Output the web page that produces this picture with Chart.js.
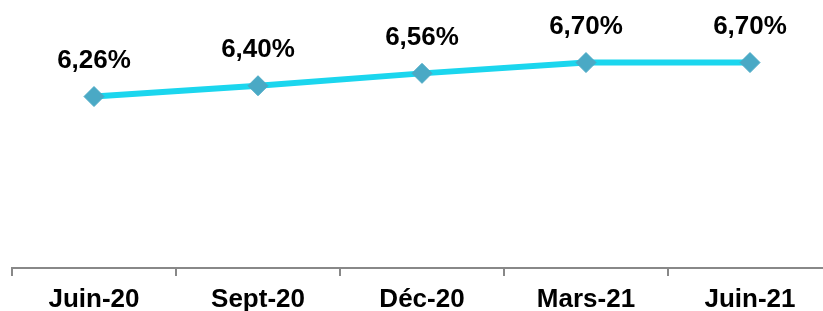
<!DOCTYPE html>
<html>
<head>
<meta charset="utf-8">
<script src="https://cdn.jsdelivr.net/npm/chart.js@4/dist/chart.umd.min.js"></script>
<style>
  html, body { margin: 0; padding: 0; background: #fff; overflow: hidden; }
</style>
</head>
<body>
<canvas id="rateChart" width="832" height="311"></canvas>
<script>
    // --- DATA ---
    const periods = ['Juin-20', 'Sept-20', 'Déc-20', 'Mars-21', 'Juin-21'];
    const rates = [6.26, 6.40, 6.56, 6.70, 6.70];

    const fontFamily = '"Liberation Sans", Arial, sans-serif';

    // value labels above each point, comma decimal
    const valueLabels = {
        id: 'valueLabels',
        afterDatasetsDraw(chart) {
            const ctx = chart.ctx;
            const meta = chart.getDatasetMeta(0);
            ctx.save();
            ctx.font = 'bold 26px ' + fontFamily;
            ctx.fillStyle = '#000';
            ctx.textAlign = 'center';
            ctx.textBaseline = 'middle';
            meta.data.forEach((pt, i) => {
                const txt = rates[i].toFixed(2).replace('.', ',') + '%';
                ctx.fillText(txt, pt.x, pt.y - 36);
            });
            ctx.restore();
        }
    };

    new Chart(document.getElementById('rateChart').getContext('2d'), {
        type: 'line',
        data: {
            labels: periods,
            datasets: [{
                data: rates,
                borderColor: '#1bd6ee',
                borderWidth: 6,
                pointStyle: 'rectRot',
                pointRadius: 10,
                pointBorderWidth: 1,
                pointBackgroundColor: '#4aa9c5',
                pointBorderColor: '#4aa9c5',
                tension: 0
            }]
        },
        options: {
            responsive: false,
            animation: false,
            layout: { autoPadding: false, padding: { left: 12, right: 0, top: 0, bottom: -13 } },
            plugins: { legend: { display: false }, tooltip: { enabled: false } },
            scales: {
                y: { display: false, min: 4.04, max: 7.51 },
                x: {
                    offset: true,
                    grid: { offset: true, drawOnChartArea: false, tickLength: 8, color: '#888', lineWidth: 2 },
                    border: { color: '#888', width: 2 },
                    ticks: { color: '#000', padding: 11, font: { family: fontFamily, size: 26, weight: 'bold', lineHeight: 1 } }
                }
            }
        },
        plugins: [valueLabels]
    });
</script>
</body>
</html>
